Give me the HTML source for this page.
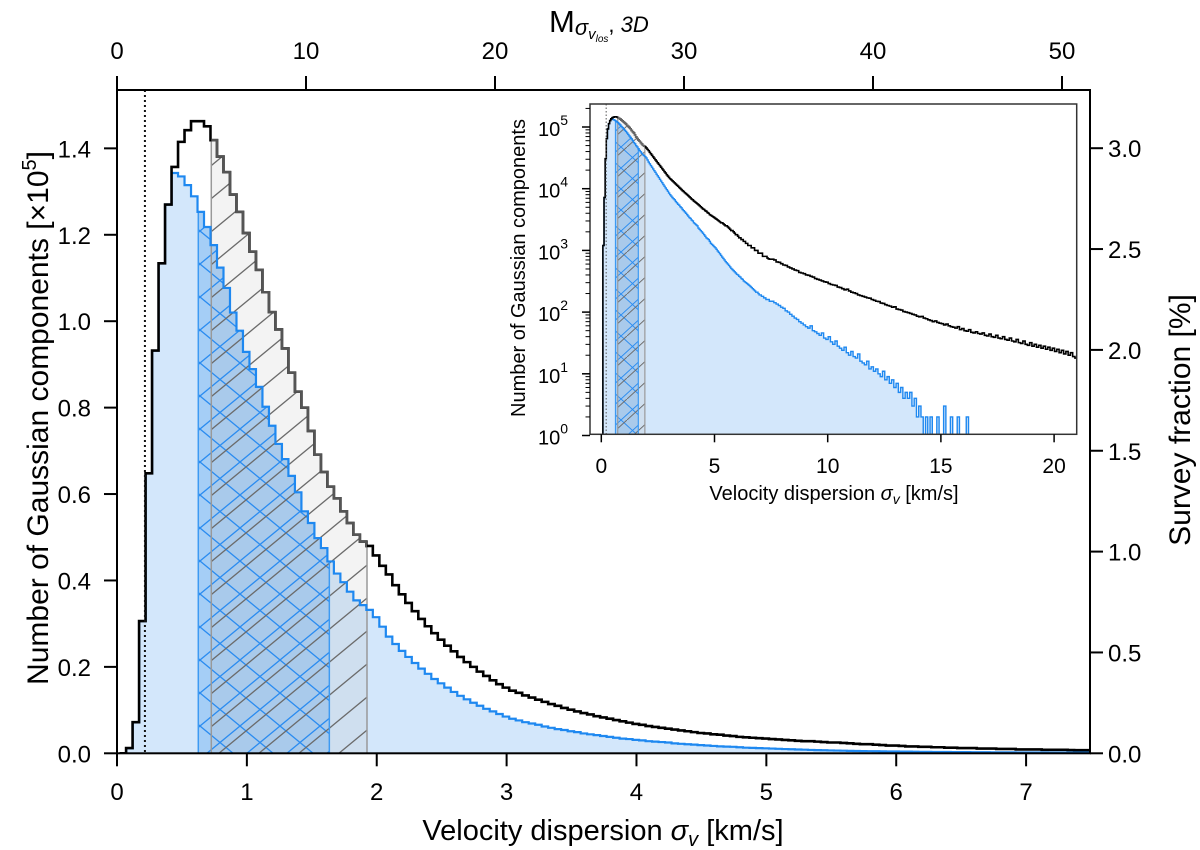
<!DOCTYPE html>
<html><head><meta charset="utf-8"><style>
html,body{margin:0;padding:0;background:#fff;}
svg{display:block;font-family:"Liberation Sans",Arial,sans-serif;}
</style></head><body>
<svg id="chart" width="1200" height="850" viewBox="0 0 1200 850" xmlns="http://www.w3.org/2000/svg">
<defs>
<clipPath id="mainClip"><rect x="117" y="90" width="973" height="663.3"/></clipPath>
<clipPath id="insetClip"><rect x="590" y="104" width="486.7" height="330.3"/></clipPath>
<pattern id="blueHatch" patternUnits="userSpaceOnUse" width="40" height="33">
<path d="M0,0 L40,33 M0,33 L40,0" stroke="#2b8cf0" stroke-width="1.3" fill="none"/></pattern>
<pattern id="grayHatch" patternUnits="userSpaceOnUse" width="40" height="33" x="12">
<path d="M0,33 L40,0 M-4,3.3 L4,-3.3 M36,36.3 L44,29.7" stroke="#6b6b6b" stroke-width="1.3" fill="none"/></pattern>
<pattern id="blueHatchS" patternUnits="userSpaceOnUse" width="23" height="21">
<path d="M0,0 L23,21 M0,21 L23,0" stroke="#2b8cf0" stroke-width="1" fill="none"/></pattern>
<pattern id="grayHatchS" patternUnits="userSpaceOnUse" width="23" height="21" x="6">
<path d="M0,21 L23,0" stroke="#6b6b6b" stroke-width="1" fill="none"/></pattern>
</defs>
<g id="main"></g>
<g id="inset"></g>
</svg>
<script>
const binStart = 0.02, binW = 0.05;
const totalCounts = [0,0.012,0.072,0.306,0.648,0.932,1.134,1.27,
1.357,1.415,1.442,1.463,1.463,1.451,1.419,1.381,1.345,1.293,
1.253,1.204,1.161,1.119,1.067,1.021,0.981,0.937,0.881,0.837,
0.80,0.746,0.691,0.651,0.617,0.59,0.56,0.533,0.506,0.49,
0.48,0.458,0.434,0.414,
0.389,0.368,0.348,0.329,0.311,0.294,0.278,0.263,0.249,0.236,0.223,0.211,0.200,0.189,0.179,0.169,0.160,0.152,
0.145,0.140,0.134,0.129,0.124,0.119,0.114,0.110,0.105,0.101,
0.097,0.093,0.090,0.086,0.083,0.080,0.077,0.074,0.071,0.068,
0.066,0.063,0.061,0.059,0.057,0.055,0.053,0.051,0.049,0.047,
0.046,0.044,0.043,0.041,0.040,0.038,0.037,0.036,0.035,0.034,
0.033,0.032,0.031,0.030,0.029,0.028,0.028,0.027,0.026,0.025,
0.025,0.024,0.023,0.022,0.021,0.021,0.020,0.019,0.018,0.018,
0.017,0.016,0.016,0.015,0.015,0.014,0.014,0.013,0.013,0.012,
0.012,0.012,0.011,0.011,0.011,0.010,0.010,0.010,0.009,0.009,
0.009,0.009,0.008,0.008,0.008,0.008,0.0075,0.0073,0.0072,0.0072];
const resolvedCounts = [0,0.012,0.072,0.306,0.648,0.932,1.134,1.27,
1.343,1.335,1.315,1.289,1.253,1.218,1.176,1.124,1.077,1.02,
0.978,0.929,0.889,0.848,0.802,0.758,0.716,0.681,0.642,0.604,
0.56,0.533,0.498,0.475,0.444,0.416,0.396,0.374,0.354,0.343,
0.332,0.315,0.293,0.27,
0.253,0.237,0.223,0.209,0.196,0.184,0.172,0.162,0.152,0.142,0.133,0.125,0.117,0.110,0.103,0.097,0.091,0.085,
0.080,0.076,0.072,0.069,0.066,0.062,0.059,0.056,0.054,0.051,
0.049,0.046,0.044,0.042,0.040,0.038,0.036,0.034,0.033,0.031,
0.030,0.028,0.027,0.026,0.025,0.023,0.022,0.021,0.020,0.019,
0.018,0.017,0.016,0.0155,0.015,0.014,0.013,0.0125,0.012,0.0115,
0.0110,0.0104,0.0098,0.0093,0.0088,0.0083,0.0078,0.0074,0.0070,0.0066,
0.0063,0.0060,0.0057,0.0054,0.0051,0.0049,0.0047,0.0045,0.0043,0.0041,
0.0040,0.0038,0.0037,0.0035,0.0034,0.0032,0.0031,0.0030,0.0029,0.0028,
0.0027,0.0026,0.0025,0.0024,0.0023,0.0022,0.0021,0.0021,0.0020,0.0019,
0.0019,0.0018,0.0018,0.0017,0.0017,0.0016,0.0016,0.0016,0.0015,0.0015];
const tailStart = 7.52, tailW = 0.1;
const totalTail = [720,700,650,640,610,580,570,540,520,500,
480,470,440,430,420,400,395,380,370,350,
340,330,320,310,305,290,280,275,270,255,
250,240,230,235,220,210,205,200,190,185,
180,175,170,168,160,155,150,148,140,138,
132,128,125,120,122,112,110,108,102,100,
98,95,92,90,86,84,85,80,78,75,
73,70,72,68,66,65,62,64,60,58,
57,55,58,52,54,50,49,52,47,46,
48,45,44,46,42,41,44,40,39,42,
38,37,40,36,35,38,34,33,36,32,
31,34,30,29,32,28,30,27,29,26,
28,25,27,24,26,23,25,22,24,21,
23,20,22,19,18];
const resolvedTail = [150,142,135,128,120,115,105,100,92,86,
80,76,70,66,62,58,55,60,50,48,
45,42,46,38,36,40,33,30,34,28,
26,24,27,22,20,23,19,18,21,16,
15,14,16,12,13,11,12,10,9,11,
8,9,7,8,6,7,5,6,4,5,
4,5,3,4,2,3,2,1,2,0,
2,1,0,2,1,0,3,1,0,2,
0,1,2,0,1,0,2,1,0,1,
0,0,1,0,0,1,0,0,1,0,
1,0,0,0,1,0,0,0,1,0,
0,1,0,0,0,0,1,0,0,0,
1,0,0,1,0,0,0,0,0,0,
0,0,0,0,0];
const blueBand = [0.626, 1.635];
const grayBand = [0.726, 1.925];
const thresholdX = 0.215;
const xTicks = [0,1,2,3,4,5,6,7];
const yTicks = [0.0,0.2,0.4,0.6,0.8,1.0,1.2,1.4];
const topTicks = [0,10,20,30,40,50];
const rightTicks = [0.0,0.5,1.0,1.5,2.0,2.5,3.0];
const insetXTicks = [0,5,10,15,20];
const insetDecades = [0,1,2,3,4,5];

const NS = "http://www.w3.org/2000/svg";
function mk(tag, attrs, parent, text){
  const e = document.createElementNS(NS, tag);
  for (const k in attrs) e.setAttribute(k, attrs[k]);
  if (text !== undefined) e.textContent = text;
  parent.appendChild(e); return e;
}
const X = v => 117 + v*129.87;
const Y = v => 753.3 - v*432.1;
const Ytop = 90, Ybot = 753.3, Xl = 117, Xr = 1090;
const Mx = m => 117 + m*18.9;
const Y2 = p => 753.3 - p*201.7;
const Xi = v => 601.3 + v*22.64;
const Yi = c => c >= 1 ? 435.5 - Math.log10(c)*61.7 : 440;
const iL = 590, iR = 1076.7, iT = 104, iB = 434.3;

function stepPath(xs, vals, xf, yf, base){
  let d = "M" + xf(xs[0]).toFixed(2) + "," + base;
  for (let i=0;i<vals.length;i++){
    const y = yf(vals[i]).toFixed(2);
    d += " L" + xf(xs[i]).toFixed(2) + "," + y + " L" + xf(xs[i+1]).toFixed(2) + "," + y;
  }
  return d;
}
function lineOnly(xs, vals, xf, yf){
  let d = "";
  for (let i=0;i<vals.length;i++){
    const y = yf(vals[i]).toFixed(2);
    d += (i===0?"M":" L") + xf(xs[i]).toFixed(2) + "," + y + " L" + xf(xs[i+1]).toFixed(2) + "," + y;
  }
  return d;
}
const mainEdges = []; for (let i=0;i<=totalCounts.length;i++) mainEdges.push(binStart + i*binW);

const main = document.getElementById('main');
function bandClip(id, x0, x1, top, bot){
  const defs = document.querySelector('defs');
  const cp = mk('clipPath', {id:id}, defs);
  mk('rect', {x:x0, y:top, width:x1-x0, height:bot-top}, cp);
}
bandClip('mBlueBand', X(blueBand[0]), X(blueBand[1]), Ytop, Ybot);
bandClip('mGrayBand', X(grayBand[0]), X(grayBand[1]), Ytop, Ybot);

const gm = mk('g', {'clip-path':'url(#mainClip)'}, main);
const blueArea = stepPath(mainEdges, resolvedCounts, X, Y, Ybot) + " Z";
const blackArea = stepPath(mainEdges, totalCounts, X, Y, Ybot) + " Z";
let e;
e = mk('path', {d: blueArea, fill:'#d3e7fb', stroke:'none'}, gm);


const gBlueBand = mk('g', {'clip-path':'url(#mBlueBand)'}, gm);
e = mk('path', {d: blueArea, fill:'#a5cef6'}, gBlueBand);


const gGrayBand = mk('g', {'clip-path':'url(#mGrayBand)'}, gm);
e = mk('path', {d: blackArea, fill:'rgba(190,190,190,0.18)'}, gGrayBand);


const gBlueBand2 = mk('g', {'clip-path':'url(#mBlueBand)'}, gm);
mk('path', {d: blueArea, fill:'url(#blueHatch)'}, gBlueBand2);
const gGrayBand2 = mk('g', {'clip-path':'url(#mGrayBand)'}, gm);
mk('path', {d: blackArea, fill:'url(#grayHatch)'}, gGrayBand2);
function valAt(arr, x){ const i = Math.floor((x-binStart)/binW); return arr[Math.max(0,Math.min(arr.length-1,i))]; }
e = mk('line', {x1:X(blueBand[0]), x2:X(blueBand[0]), y1:Ybot, y2:Y(valAt(resolvedCounts,blueBand[0])), stroke:'#3d9af2', 'stroke-width':1.5}, gm);
 
e = mk('line', {x1:X(blueBand[1]), x2:X(blueBand[1]), y1:Ybot, y2:Y(valAt(resolvedCounts,blueBand[1])), stroke:'#3d9af2', 'stroke-width':1.5}, gm);
 
e = mk('line', {x1:X(grayBand[0]), x2:X(grayBand[0]), y1:Ybot, y2:Y(valAt(totalCounts,grayBand[0])), stroke:'#999', 'stroke-width':1.5}, gm);
 
e = mk('line', {x1:X(grayBand[1]), x2:X(grayBand[1]), y1:Ybot, y2:Y(valAt(totalCounts,grayBand[1])), stroke:'#999', 'stroke-width':1.5}, gm);
 
e = mk('path', {d: lineOnly(mainEdges, resolvedCounts, X, Y), fill:'none', stroke:'#1e88f0', 'stroke-width':2.2}, gm);
 
e = mk('path', {d: lineOnly(mainEdges, totalCounts, X, Y), fill:'none', stroke:'#000', 'stroke-width':2.6}, gm);
 
const gGrayLine = mk('g', {'clip-path':'url(#mGrayBand)'}, gm);
mk('path', {d: lineOnly(mainEdges, totalCounts, X, Y), fill:'none', stroke:'#555', 'stroke-width':2.6}, gGrayLine);
e = mk('line', {x1:X(thresholdX), x2:X(thresholdX), y1:Ytop, y2:Ybot, stroke:'#111', 'stroke-width':2, 'stroke-dasharray':'2,3'}, gm);
 

e = mk('rect', {x:Xl, y:Ytop, width:Xr-Xl, height:Ybot-Ytop, fill:'none', stroke:'#000', 'stroke-width':2}, main);
 
const fs = 24;
xTicks.forEach(v=>{
  mk('line', {x1:X(v), x2:X(v), y1:Ybot, y2:Ybot+13, stroke:'#000','stroke-width':2}, main);
  const t = mk('text', {x:X(v), y:800, 'font-size':fs, 'text-anchor':'middle'}, main, String(v));
   
});
yTicks.forEach(v=>{
  mk('line', {x1:Xl-13, x2:Xl, y1:Y(v), y2:Y(v), stroke:'#000','stroke-width':2}, main);
  const t = mk('text', {x:91, y:Y(v)+9, 'font-size':fs, 'text-anchor':'end'}, main, v.toFixed(1));
   
});
topTicks.forEach(v=>{
  mk('line', {x1:Mx(v), x2:Mx(v), y1:Ytop-14, y2:Ytop, stroke:'#000','stroke-width':2}, main);
  const t = mk('text', {x:Mx(v), y:59, 'font-size':fs, 'text-anchor':'middle'}, main, String(v));
   
});
rightTicks.forEach(v=>{
  mk('line', {x1:Xr, x2:Xr+13, y1:Y2(v), y2:Y2(v), stroke:'#000','stroke-width':2}, main);
  const t = mk('text', {x:1108, y:Y2(v)+9, 'font-size':fs, 'text-anchor':'start'}, main, v.toFixed(1));
   
});
let t = mk('text', {x:603, y:840, 'font-size':29, 'text-anchor':'middle'}, main);
 
t.innerHTML = 'Velocity dispersion <tspan font-style="italic">σ</tspan><tspan font-style="italic" font-size="20" dy="6">v</tspan><tspan dy="-6"> [km/s]</tspan>';
t = mk('text', {x:0, y:0, 'font-size':30, 'text-anchor':'middle', transform:'translate(48,418) rotate(-90)'}, main);
 
t.innerHTML = 'Number of Gaussian components [×10<tspan font-size="20" dy="-12">5</tspan><tspan dy="12">]</tspan>';
t = mk('text', {x:0, y:0, 'font-size':30, 'text-anchor':'middle', transform:'translate(1190,420) rotate(-90)'}, main);
 
t.textContent = 'Survey fraction [%]';
t = mk('text', {x:549, y:32, 'font-size':31, 'text-anchor':'start'}, main);
 
t.innerHTML = 'M<tspan font-style="italic" font-size="22" dy="3">σ</tspan><tspan font-style="italic" font-size="15" dy="4">v</tspan><tspan font-style="italic" font-size="10" dy="3">los</tspan><tspan font-size="22" dy="-10">, </tspan><tspan font-style="italic" font-size="22">3D</tspan>';

// ---------- inset ----------
const inset = document.getElementById('inset');
e = mk('rect', {x:iL, y:iT, width:iR-iL, height:iB-iT, fill:'#fff', stroke:'none'}, inset);
const insetEdges = mainEdges.slice();
const insetTotal = totalCounts.map(v=>v*1e5).concat(totalTail);
const insetResolved = resolvedCounts.map(v=>v*1e5).concat(resolvedTail);
for (let i=1;i<=totalTail.length;i++) insetEdges.push(tailStart + i*tailW);
bandClip('iBlueBand', Xi(blueBand[0]), Xi(blueBand[1]), iT, iB);
bandClip('iGrayBand', Xi(grayBand[0]), Xi(grayBand[1]), iT, iB);
const gi = mk('g', {'clip-path':'url(#insetClip)'}, inset);
const iBlueArea = stepPath(insetEdges, insetResolved, Xi, Yi, 440) + " Z";
const iBlackArea = stepPath(insetEdges, insetTotal, Xi, Yi, 440) + " Z";
e = mk('path', {d:iBlueArea, fill:'#d3e7fb'}, gi);
 
let gb = mk('g', {'clip-path':'url(#iBlueBand)'}, gi);
mk('path', {d:iBlueArea, fill:'#a5cef6'}, gb);
let gg = mk('g', {'clip-path':'url(#iGrayBand)'}, gi);
mk('path', {d:iBlackArea, fill:'rgba(190,190,190,0.18)'}, gg);
gb = mk('g', {'clip-path':'url(#iBlueBand)'}, gi);
mk('path', {d:iBlueArea, fill:'url(#blueHatchS)'}, gb);
gg = mk('g', {'clip-path':'url(#iGrayBand)'}, gi);
mk('path', {d:iBlackArea, fill:'url(#grayHatchS)'}, gg);
[blueBand[0], blueBand[1]].forEach(b=>{ mk('line',{x1:Xi(b),x2:Xi(b),y1:iB,y2:Yi(valAt(resolvedCounts,b)*1e5),stroke:'#3d9af2','stroke-width':1.2}, gi); });
[grayBand[0], grayBand[1]].forEach(b=>{ mk('line',{x1:Xi(b),x2:Xi(b),y1:iB,y2:Yi(valAt(totalCounts,b)*1e5),stroke:'#999','stroke-width':1.2}, gi); });
e = mk('path', {d:lineOnly(insetEdges, insetResolved, Xi, Yi), fill:'none', stroke:'#1e88f0', 'stroke-width':1.4}, gi);
 
e = mk('path', {d:lineOnly(insetEdges, insetTotal, Xi, Yi), fill:'none', stroke:'#000', 'stroke-width':1.6}, gi);
 
gg = mk('g', {'clip-path':'url(#iGrayBand)'}, gi);
mk('path', {d:lineOnly(insetEdges, insetTotal, Xi, Yi), fill:'none', stroke:'#666', 'stroke-width':1.6}, gg);
e = mk('line', {x1:Xi(thresholdX), x2:Xi(thresholdX), y1:iT, y2:iB, stroke:'#555', 'stroke-width':1, 'stroke-dasharray':'1.5,2'}, gi);
 
e = mk('rect', {x:iL, y:iT, width:iR-iL, height:iB-iT, fill:'none', stroke:'#333', 'stroke-width':1.5}, inset);
 
insetXTicks.forEach(v=>{
  mk('line', {x1:Xi(v), x2:Xi(v), y1:iB, y2:iB+8, stroke:'#000','stroke-width':1.5}, inset);
  const tt = mk('text', {x:Xi(v), y:473, 'font-size':21, 'text-anchor':'middle'}, inset, String(v));
   
});
insetDecades.forEach(dd=>{
  const yy = Yi(Math.pow(10,dd));
  mk('line', {x1:iL-8, x2:iL, y1:yy, y2:yy, stroke:'#000','stroke-width':1.5}, inset);
  for (let m=2;m<=9;m++){
    const ym = Yi(m*Math.pow(10,dd));
    if (ym >= iT) mk('line', {x1:iL-4.5, x2:iL, y1:ym, y2:ym, stroke:'#000','stroke-width':1}, inset);
  }
  const tt = mk('text', {x:568, y:yy+9, 'font-size':20, 'text-anchor':'end'}, inset);
   
  tt.innerHTML = '10<tspan font-size="14" dy="-11">' + dd + '</tspan>';
});
t = mk('text', {x:834, y:500, 'font-size':20, 'text-anchor':'middle'}, inset);
 
t.innerHTML = 'Velocity dispersion <tspan font-style="italic">σ</tspan><tspan font-style="italic" font-size="14" dy="4">v</tspan><tspan dy="-4"> [km/s]</tspan>';
t = mk('text', {x:0, y:0, 'font-size':20, 'text-anchor':'middle', transform:'translate(525,268) rotate(-90)'}, inset);
 
t.textContent = 'Number of Gaussian components';
</script>
</body></html>
